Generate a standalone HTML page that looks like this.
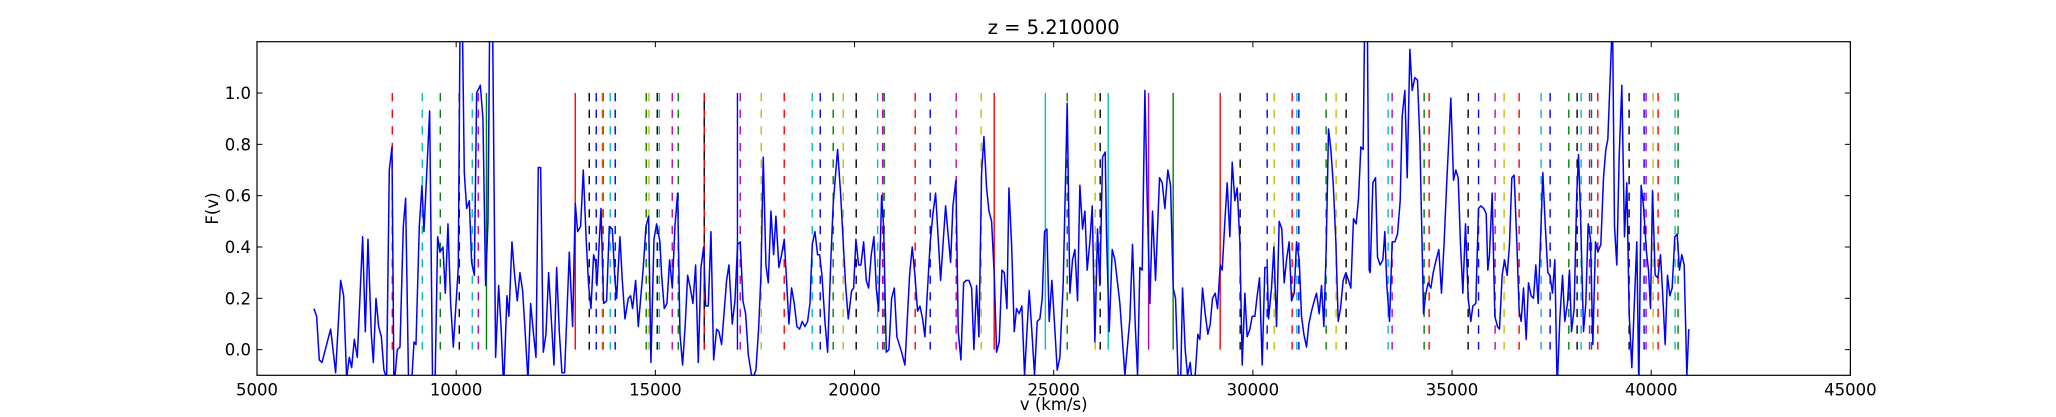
<!DOCTYPE html>
<html><head><meta charset="utf-8"><style>
html,body{margin:0;padding:0;background:#fff;}
svg{display:block;font-family:"DejaVu Sans","Liberation Sans",sans-serif;}
</style></head><body>
<svg id="chart" width="2056" height="417" viewBox="0 0 2056 417" xmlns="http://www.w3.org/2000/svg">
<rect x="0" y="0" width="2056" height="417" fill="#fff"/>
<defs><clipPath id="pc"><rect x="257" y="41.7" width="1593.4" height="333.6"/></clipPath></defs>
<g id="lines" clip-path="url(#pc)"></g>
<g id="series" clip-path="url(#pc)"></g>
<g id="axes"></g>
<text x="1053.7" y="34" font-size="19.5" text-anchor="middle">z = 5.210000</text>
<text x="1053.7" y="410" font-size="16.5" text-anchor="middle">v (km/s)</text>
<text x="0" y="0" font-size="16.5" text-anchor="middle" transform="translate(218,208.5) rotate(-90)">F(v)</text>
</svg>
<script>
const xTicks=[5000,10000,15000,20000,25000,30000,35000,40000,45000];
const yTicks=[0.0,0.2,0.4,0.6,0.8,1.0];
const lineV=[8396,9149,9601,10078,10404,10555,10760,12989,13341,13516,13667,13690,13868,13993,14771,14839,15048,15098,15424,15575,16227,16227,17061,17131,17658,18235,18938,19139,19465,19716,20042,20580,20705,20745,21523,21900,22552,23180,23506,24791,25339,26041,26167,26368,27382,27999,29179,29681,30359,30534,30986,31104,31154,31839,32090,32341,33396,33496,34299,34425,35404,35665,36081,36307,36684,37236,37462,37931,38140,38240,38451,38501,38659,39445,39821,39871,40047,40173,40599,40674];
const lineColor=["r","c","g","k","c","m","g","r","k","b","y","r","c","b","g","y","k","c","m","g","k","r","b","m","y","r","c","b","g","y","k","c","m","g","r","b","m","y","r","c","g","y","k","c","m","g","r","k","b","y","r","c","b","g","y","k","c","m","g","r","k","b","m","y","r","c","b","g","k","c","m","g","r","k","b","m","y","r","c","g"];
const lineSolid=[0,0,0,0,0,0,1,1,0,0,0,0,0,0,0,0,0,0,0,0,1,0,1,0,0,0,0,0,0,0,0,0,0,0,0,0,0,0,1,1,0,0,0,1,1,1,1,0,0,0,0,0,0,0,0,0,0,0,0,0,0,0,0,0,0,0,0,0,0,0,0,0,0,0,0,0,0,0,0,0];
const vel=[6430,6497,6564,6631,6849,6974,7100,7175,7250,7317,7376,7443,7518,7652,7719,7786,7870,7920,7987,8054,8121,8187,8254,8321,8388,8438,8522,8589,8673,8731,8807,8874,8941,8991,9074,9141,9191,9334,9409,9468,9535,9593,9668,9727,9794,9861,9928,10053,10103,10145,10204,10263,10330,10388,10455,10514,10606,10672,10739,10798,10848,10907,10990,11066,11133,11191,11275,11325,11400,11467,11534,11601,11668,11735,11802,11869,11936,12003,12061,12120,12187,12254,12321,12455,12522,12589,12655,12722,12840,12923,12990,13049,13124,13191,13266,13325,13383,13450,13500,13534,13568,13635,13701,13777,13844,13919,13986,14028,14111,14170,14237,14321,14379,14429,14505,14572,14697,14764,14831,14889,14965,15032,15115,
15157,15224,15291,15358,15425,15492,15559,15618,15684,15751,15810,15877,15944,16011,16078,16145,16212,16262,16329,16396,16463,16538,16596,16663,16789,16847,16931,16998,17065,17132,17199,17266,17333,17416,17475,17525,17592,17651,17709,17776,17835,17902,17969,18027,18102,18169,18236,18286,18353,18420,18487,18554,18621,18688,18755,18822,18881,18939,19006,19073,19123,19182,19257,19324,19408,19466,19575,19650,19726,19776,19843,19927,19977,20035,20102,20161,20228,20295,20353,20420,20487,20546,20604,20680,20730,20797,20864,20931,20998,21064,21182,21265,21382,21449,21516,21583,21642,21709,21767,21834,21901,21968,22035,22161,22286,22412,22470,22545,22604,22671,22738,22805,22872,22939,22997,23064,23123,23190,23248,23315,23374,23441,23508,23566,23633,23700,23759,23826,23876,23943,24010,
24067,24134,24201,24268,24385,24452,24519,24586,24653,24712,24770,24829,24887,24954,25021,25088,25155,25239,25339,25406,25473,25532,25599,25657,25724,25783,25841,25908,25967,26034,26100,26159,26226,26293,26326,26393,26469,26536,26661,26787,26912,26979,27046,27105,27163,27222,27289,27347,27414,27481,27556,27657,27724,27791,27866,27933,28000,28058,28134,28184,28234,28301,28360,28427,28485,28552,28619,28669,28736,28803,28870,28929,28987,29054,29113,29180,29230,29297,29355,29422,29481,29548,29606,29673,29732,29799,29857,29924,29983,30050,30108,30167,30234,30301,30359,30393,30468,30527,30594,30660,30727,30786,30845,30911,30970,31037,31096,31163,31221,31280,31347,31405,31472,31539,31598,31665,31723,31782,31840,31899,31958,32016,32083,32142,32200,32267,32334,32401,32459,32526,32593,32652,32711,32769,32811,32870,32920,
32945,33012,33079,33129,33196,33263,33313,33363,33430,33497,33564,33631,33698,33748,33815,33874,33941,33999,34066,34133,34192,34284,34342,34401,34468,34526,34601,34668,34735,34802,34869,34970,35037,35095,35154,35212,35271,35338,35405,35472,35522,35597,35664,35723,35798,35857,35898,35940,36007,36074,36141,36191,36258,36317,36384,36442,36501,36559,36626,36685,36735,36794,36861,36919,36986,37045,37103,37162,37229,37279,37338,37404,37455,37521,37580,37639,37706,37773,37831,37898,37948,37999,38065,38132,38174,38224,38300,38358,38417,38475,38534,38601,38660,38735,38802,38860,38911,39028,39078,39136,39195,39262,39329,39387,39446,39513,39571,39638,39689,39747,39806,39881,39931,39982,40032,40099,40166,40233,40283,40350,40408,40467,40525,40592,40651,40709,40768,40827,40894,40944];
const flux=[0.16,0.13,-0.04,-0.05,0.08,-0.09,0.27,0.21,-0.11,-0.03,-0.07,0.04,-0.03,0.44,0.07,0.43,0.06,-0.05,0.20,0.09,0.05,-0.08,-0.11,0.70,0.79,-0.15,0.00,0.01,0.48,0.59,-0.15,-0.15,0.03,0.02,0.48,0.64,0.46,0.93,-0.15,-0.15,0.44,0.38,0.40,0.22,0.49,0.18,0.01,0.32,1.4,1.4,0.69,0.55,0.58,0.34,0.29,1.00,1.03,0.90,0.25,0.50,1.4,1.4,-0.03,0.25,0.07,-0.15,0.21,0.13,0.42,0.29,0.19,0.30,0.23,0.06,-0.12,0.18,0.07,-0.03,0.71,0.71,-0.01,0.06,0.30,-0.06,0.32,0.07,-0.09,-0.09,0.38,0.09,0.57,0.46,0.48,0.70,0.42,0.25,0.16,0.37,0.34,0.25,0.35,0.55,0.18,0.19,0.48,0.47,0.27,0.20,0.44,0.27,0.12,0.20,0.21,0.16,0.27,0.09,0.32,0.48,0.52,-0.05,0.43,0.49,0.42,
0.29,0.16,0.18,0.35,0.24,0.48,0.61,0.06,-0.06,0.10,0.29,0.24,0.18,0.33,-0.05,0.32,0.40,0.17,0.17,0.46,-0.04,0.08,0.07,0.02,0.27,0.33,0.10,0.19,0.41,0.42,0.19,0.14,-0.02,-0.10,-0.10,-0.08,0.08,0.29,0.75,0.33,0.26,0.54,0.37,0.52,0.32,0.37,0.43,0.29,0.10,0.24,0.18,0.09,0.08,0.11,0.09,0.11,0.18,0.41,0.46,0.37,0.37,0.29,0.11,-0.01,0.36,0.57,0.78,0.61,0.39,0.25,0.12,0.23,0.24,0.43,0.33,0.33,0.42,0.27,0.24,0.37,0.44,0.24,0.15,0.60,0.48,-0.01,0.00,0.20,0.24,0.05,-0.01,-0.06,0.29,0.40,0.29,0.15,0.17,0.12,0.05,0.24,0.42,0.53,0.61,0.27,0.56,0.34,0.56,0.66,0.07,-0.04,0.26,0.27,0.27,0.24,0.00,0.25,0.05,0.69,0.83,0.63,0.54,0.50,0.29,-0.01,0.03,0.31,0.30,0.16,0.63,0.41,0.07,
0.16,0.14,0.17,-0.10,0.23,0.07,-0.10,0.11,0.12,0.20,0.46,0.47,0.11,0.27,0.10,-0.08,-0.03,0.26,0.96,0.22,0.35,0.39,0.19,0.64,0.47,0.54,0.31,0.42,0.56,0.03,0.47,0.25,0.75,0.77,0.45,0.07,0.39,0.35,0.18,-0.10,0.12,0.41,0.10,-0.10,0.32,0.31,1.01,0.59,0.18,0.54,0.27,0.67,0.65,0.55,0.70,0.64,0.24,0.20,-0.15,-0.15,0.24,0.00,-0.10,-0.05,-0.15,-0.10,0.06,0.04,0.24,0.14,0.06,0.10,0.20,0.22,0.16,0.33,0.31,0.50,0.65,0.44,0.73,0.58,0.63,0.42,-0.06,0.22,0.05,0.08,0.13,0.13,0.21,0.28,-0.06,0.32,0.32,0.12,0.24,0.40,0.09,0.50,0.47,0.26,0.35,0.42,0.19,0.22,0.42,0.35,0.13,0.06,0.01,0.10,0.15,0.19,0.22,0.14,0.25,0.09,0.39,0.86,0.78,0.65,0.42,0.11,0.16,0.27,0.30,0.27,0.24,0.51,0.49,0.59,0.79,0.78,1.35,1.35,0.31,
0.30,0.65,0.67,0.36,0.33,0.35,0.46,0.25,0.11,0.42,0.42,0.45,0.58,0.91,1.01,0.67,1.17,1.01,1.06,1.05,0.82,0.14,0.22,0.26,0.24,0.30,0.35,0.39,0.22,0.42,0.66,0.98,0.66,0.70,0.67,0.41,0.22,0.49,0.20,0.11,0.17,0.18,0.55,0.56,0.55,0.53,0.31,0.37,0.61,0.13,0.09,0.08,0.29,0.35,0.29,0.41,0.67,0.68,0.42,0.15,0.11,0.24,0.04,0.26,0.21,0.20,0.33,0.18,0.46,0.69,0.49,0.30,0.29,0.22,0.35,-0.15,0.12,0.29,0.11,0.18,0.31,0.07,0.16,0.61,0.76,0.53,0.07,0.18,0.49,0.43,0.02,0.42,0.38,0.41,0.67,0.78,0.82,1.3,0.48,0.33,0.75,1.03,0.44,0.65,0.14,-0.07,0.16,0.42,-0.15,0.64,0.56,0.38,0.31,0.16,0.62,0.29,0.28,0.37,0.23,0.02,0.29,0.21,0.24,0.44,0.45,0.31,0.37,0.33,-0.10,0.08];

const NS='http://www.w3.org/2000/svg';
const X0=257,X1=1850.4,Y0=375.3,Y1=41.7,VMIN=5000,VMAX=45000,FMIN=-0.1,FMAX=1.2;
function xs(v){return X0+(v-VMIN)/(VMAX-VMIN)*(X1-X0);}
function ys(f){return Y0-(f-FMIN)/(FMAX-FMIN)*(Y0-Y1);}
const COL={b:'#0000ff',g:'#008000',r:'#ff0000',c:'#00bfbf',m:'#bf00bf',y:'#bfbf00',k:'#000000'};
const gl=document.getElementById('lines');
for(let i=0;i<lineV.length;i++){
  const l=document.createElementNS(NS,'line');
  const x=xs(lineV[i]).toFixed(2);
  l.setAttribute('x1',x);l.setAttribute('x2',x);
  l.setAttribute('y1',ys(1));l.setAttribute('y2',ys(0));
  l.setAttribute('stroke',COL[lineColor[i]]);l.setAttribute('stroke-width','1.4');
  if(!lineSolid[i]) l.setAttribute('stroke-dasharray','8.3 8.3');
  
  
  gl.appendChild(l);
}
const gs=document.getElementById('series');
let d='';
for(let i=0;i<vel.length;i++){d+=(i?'L':'M')+xs(vel[i]).toFixed(2)+' '+ys(flux[i]).toFixed(2);}
const p=document.createElementNS(NS,'path');
p.setAttribute('d',d);p.setAttribute('fill','none');p.setAttribute('stroke','#0000ff');
p.setAttribute('stroke-width','1.5');p.setAttribute('stroke-linejoin','round');


gs.appendChild(p);

const ga=document.getElementById('axes');
for(const v of xTicks){
  const x=xs(v);
  for(const [a,b] of [[Y0,Y0-5.5],[Y1,Y1+5.5]]){
    const t=document.createElementNS(NS,'line');
    t.setAttribute('x1',x);t.setAttribute('x2',x);t.setAttribute('y1',a);t.setAttribute('y2',b);
    t.setAttribute('stroke','#000');t.setAttribute('stroke-width','1');
    
    
    ga.appendChild(t);
  }
  const tx=document.createElementNS(NS,'text');
  tx.setAttribute('x',x);tx.setAttribute('y',Y0+20);tx.setAttribute('font-size','16.5');tx.setAttribute('text-anchor','middle');
  tx.textContent=v;
  
  
  ga.appendChild(tx);
}
for(const f of yTicks){
  const y=ys(f);
  for(const [a,b] of [[X0,X0+5.5],[X1,X1-5.5]]){
    const t=document.createElementNS(NS,'line');
    t.setAttribute('x1',a);t.setAttribute('x2',b);t.setAttribute('y1',y);t.setAttribute('y2',y);
    t.setAttribute('stroke','#000');t.setAttribute('stroke-width','1');
    
    
    ga.appendChild(t);
  }
  const tx=document.createElementNS(NS,'text');
  tx.setAttribute('x',X0-6);tx.setAttribute('y',y+6);tx.setAttribute('font-size','16.5');tx.setAttribute('text-anchor','end');
  tx.textContent=f.toFixed(1);
  
  
  ga.appendChild(tx);
}
const fr=document.createElementNS(NS,'rect');
fr.setAttribute('x',X0);fr.setAttribute('y',Y1);fr.setAttribute('width',X1-X0);fr.setAttribute('height',Y0-Y1);
fr.setAttribute('fill','none');fr.setAttribute('stroke','#000');fr.setAttribute('stroke-width','1.2');


ga.appendChild(fr);
</script>
</body></html>
